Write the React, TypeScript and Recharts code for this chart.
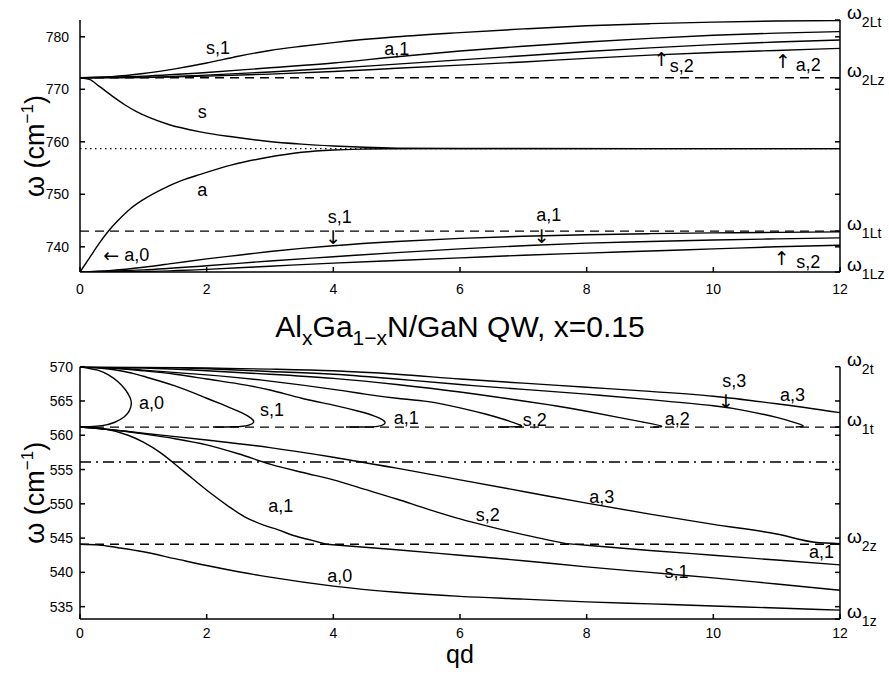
import React from 'react';
import { ComposedChart, Line, Scatter, XAxis, YAxis, ReferenceLine } from 'recharts';

const FONT = '"Liberation Sans", "DejaVu Sans", Arial, Helvetica, sans-serif';
const ARROW_FONT = '"DejaVu Sans", "Liberation Sans", sans-serif';
const ARROWS = ['↑', '↓', '←'];

// axes
const qdTicks = [0, 2, 4, 6, 8, 10, 12];
const topWTicks = [740, 750, 760, 770, 780];
const botWTicks = [535, 540, 545, 550, 555, 560, 565, 570];
const topDomain = [735.2, 783.2];
const botDomain = [533.2, 570];

// characteristic frequencies, cm^-1
const w2Lt = 783.2;
const w2Lz = 772.2;
const wMid = 758.7;
const w1Lt = 743.0;
const w1Lz = 735.2;
const w2t = 570;
const w1t = 561.2;
const wDashDot = 556.1;
const w2z = 544.1;
const w1z = 533.2;

const topEdge = [
  { w: w2Lt, sub: '2Lt' },
  { w: w2Lz, sub: '2Lz' },
  { w: w1Lt, sub: '1Lt' },
  { w: w1Lz, sub: '1Lz' },
];
const botEdge = [
  { w: w2t, sub: '2t' },
  { w: w1t, sub: '1t' },
  { w: w2z, sub: '2z' },
  { w: w1z, sub: '1z' },
];

// ---- upper panel curves [qd, omega]
const topS = [[0, 772.2], [0.15, 771.9], [0.3, 770.6], [0.5, 768.8], [0.7, 767.1], [0.9, 765.7], [1.1, 764.6], [1.4, 763.3], [1.9, 761.9], [2.4, 760.95], [2.95, 760.1], [3.5, 759.55], [4, 759.2], [4.5, 758.95], [5, 758.8], [6, 758.72], [12, 758.7]];
const topA = [[0, 735.2], [0.15, 737.9], [0.3, 740.6], [0.45, 743.0], [0.6, 745.0], [0.8, 747.3], [1, 749.0], [1.3, 751.0], [1.6, 752.6], [1.9, 753.8], [2.4, 755.6], [2.95, 757.0], [3.5, 758.0], [4, 758.45], [4.5, 758.62], [5, 758.68], [6, 758.7], [12, 758.7]];
const topS1 = [[0, 772.2], [0.5, 772.4], [1, 773.0], [1.5, 773.9], [2, 775.0], [2.5, 776.3], [3, 777.4], [3.5, 778.2], [4, 778.9], [5, 780.0], [6, 780.8], [7, 781.5], [8, 782.1], [9, 782.5], [10, 782.8], [11, 783.0], [12, 783.1]];
const topA1 = [[0, 772.2], [1, 772.5], [2, 773.2], [3, 774.1], [4, 775.0], [5, 776.2], [6, 777.3], [7, 778.2], [8, 779.0], [9, 779.7], [10, 780.3], [11, 780.7], [12, 781.0]];
const topS2 = [[0, 772.2], [1, 772.3], [2, 772.7], [3, 773.3], [4, 774.0], [5, 774.8], [6, 775.6], [7, 776.4], [8, 777.2], [9, 777.9], [10, 778.5], [11, 779.0], [12, 779.4]];
const topA2 = [[0, 772.2], [1, 772.25], [2, 772.5], [3, 772.9], [4, 773.4], [5, 774.0], [6, 774.6], [7, 775.2], [8, 775.9], [9, 776.5], [10, 777.0], [11, 777.4], [12, 777.8]];
const topS1Low = [[0, 735.2], [0.5, 735.5], [1, 736.1], [1.5, 736.9], [2, 737.7], [2.5, 738.4], [3, 739.1], [3.5, 739.7], [4, 740.2], [5, 741.0], [6, 741.6], [7, 742.0], [8, 742.3], [9, 742.5], [10, 742.65], [11, 742.75], [12, 742.85]];
const topA1Low = [[0, 735.2], [1, 735.6], [2, 736.4], [3, 737.3], [4, 738.1], [5, 738.9], [6, 739.6], [7, 740.2], [8, 740.7], [9, 741.0], [10, 741.3], [11, 741.5], [12, 741.7]];
const topS2Low = [[0, 735.2], [1, 735.3], [2, 735.7], [3, 736.3], [4, 736.9], [5, 737.4], [6, 737.9], [7, 738.4], [8, 738.8], [9, 739.2], [10, 739.6], [11, 740.0], [12, 740.3]];

// ---- lower panel curves [qd, omega]
const botA0Loop = [[0, 570], [0.28, 569.5], [0.45, 568.8], [0.6, 567.8], [0.72, 566.6], [0.79, 565.5], [0.81, 564.6], [0.78, 563.6], [0.7, 562.7], [0.55, 561.9], [0.35, 561.4], [0.15, 561.25], [0, 561.2]];
const botS1Loop = [[0, 570], [0.3, 569.8], [0.7, 569.3], [1, 568.6], [1.5, 567.2], [2, 565.4], [2.3, 564.3], [2.55, 563.3], [2.7, 562.5], [2.74, 561.9], [2.65, 561.45], [2.45, 561.25], [2.1, 561.2]];
const botA1Loop = [[0, 570], [0.5, 569.8], [1, 569.4], [1.5, 568.9], [2, 568.2], [2.5, 567.5], [3, 566.6], [3.5, 565.4], [4, 564.4], [4.4, 563.5], [4.65, 562.8], [4.8, 562.1], [4.8, 561.6], [4.7, 561.3], [4.5, 561.2], [4.2, 561.2]];
const botS2Loop = [[0, 570], [0.5, 569.8], [1, 569.5], [2, 568.8], [3, 567.9], [4, 566.7], [4.5, 566.0], [5, 565.4], [5.5, 564.9], [6, 564.0], [6.4, 563.1], [6.7, 562.3], [6.95, 561.5], [6.9, 561.25], [6.6, 561.2]];
const botA2Loop = [[0, 570], [1, 569.8], [2, 569.4], [3, 568.9], [4, 568.3], [5, 567.4], [6, 566.3], [7, 565.0], [7.5, 564.3], [8, 563.5], [8.5, 562.6], [8.9, 561.9], [9.18, 561.35], [9.05, 561.2]];
const botS3Loop = [[0, 570], [1, 569.9], [2, 569.7], [3, 569.3], [4, 568.9], [5, 568.2], [6, 567.4], [7, 566.7], [8, 566.0], [9, 565.2], [10, 564.3], [10.5, 563.6], [11, 562.6], [11.3, 561.8], [11.42, 561.35], [11.3, 561.2]];
const botA3Top = [[0, 570], [1, 569.95], [2, 569.8], [3, 569.65], [4, 569.4], [5, 568.9], [6, 568.2], [7, 567.6], [8, 567.0], [9, 566.4], [10, 565.7], [11, 564.6], [12, 563.3]];
const botA3Low = [[0, 561.2], [0.5, 560.8], [1, 560.3], [2, 559.3], [3, 558.2], [4, 556.8], [5, 555.2], [6, 553.5], [7, 551.8], [8, 550.1], [9, 548.5], [10, 547.0], [11, 545.6], [11.6, 544.4], [12, 544.2]];
const botS2Steep = [[0, 561.2], [0.5, 560.8], [1, 560.2], [1.5, 559.5], [2, 558.6], [2.5, 557.3], [3, 555.8], [3.5, 554.6], [4, 553.5], [4.5, 552.1], [5, 550.7], [5.5, 549.2], [6, 547.8], [6.5, 546.6], [7, 545.5], [7.4, 544.7], [7.68, 544.2]];
const botS2Flat = [[7.68, 544.2], [8, 543.95], [9, 543.2], [10, 542.5], [11, 541.8], [12, 541.1]];
const botA1Steep = [[0, 561.2], [0.4, 560.9], [0.76, 560.0], [1, 559.0], [1.28, 557.4], [1.55, 555.4], [1.8, 553.5], [2.07, 551.5], [2.35, 549.6], [2.6, 548.1], [2.9, 546.9], [3.13, 546.2], [3.4, 545.3], [3.65, 544.7], [3.89, 544.1]];
const botA1Flat = [[3.89, 544.1], [5, 543.3], [6, 542.5], [7, 541.7], [8, 540.8], [9, 540.0], [10, 539.2], [11, 538.3], [12, 537.4]];
const botA0 = [[0, 544.1], [0.3, 544.0], [0.6, 543.6], [1, 543.0], [1.5, 542.0], [2, 541.0], [2.5, 540.1], [3, 539.3], [4, 538.0], [5, 537.1], [6, 536.5], [7, 536.1], [8, 535.7], [9, 535.4], [10, 535.1], [11, 534.8], [12, 534.5]];

// text annotations [qd, omega, text]
const topNotes = [
  [2.18, 777.8, 's,1'], [5.0, 777.7, 'a,1'], [1.93, 765.7, 's'], [1.93, 750.8, 'a'],
  [4.1, 745.7, 's,1'], [4.0, 741.9, '↓'], [7.4, 746.1, 'a,1'], [7.29, 742.1, '↓'],
  [0.73, 738.4, '← a,0'], [9.18, 775.8, '↑'], [9.5, 774.4, 's,2'], [11.1, 775.4, '↑'], [11.5, 774.6, 'a,2'],
  [11.08, 737.8, '↑'], [11.5, 737.1, 's,2'],
];
const botNotes = [
  [1.13, 564.65, 'a,0'], [3.03, 563.7, 's,1'], [5.15, 562.5, 'a,1'], [7.18, 562.2, 's,2'], [9.43, 562.3, 'a,2'],
  [10.33, 567.9, 's,3'], [10.2, 565.0, '↓'], [11.25, 565.9, 'a,3'],
  [8.24, 551.0, 'a,3'], [6.44, 548.4, 's,2'], [3.17, 549.7, 'a,1'], [11.71, 542.9, 'a,1'], [9.42, 540.0, 's,1'], [4.1, 539.4, 'a,0'],
];

const rows = (pts) => pts.map(([q, w]) => ({ q, w }));
const noteRows = (ns) => ns.map(([q, w, t]) => ({ q, w, t }));

const topCurves = [
  { pts: topS, kind: 'monotone' }, { pts: topA, kind: 'monotone' },
  { pts: topS1, kind: 'monotone' }, { pts: topA1, kind: 'monotone' },
  { pts: topS2, kind: 'monotone' }, { pts: topA2, kind: 'monotone' },
  { pts: topS1Low, kind: 'monotone' }, { pts: topA1Low, kind: 'monotone' }, { pts: topS2Low, kind: 'monotone' },
];
const botCurves = [
  { pts: botA0Loop, kind: 'natural' }, { pts: botS1Loop, kind: 'natural' }, { pts: botA1Loop, kind: 'natural' },
  { pts: botS2Loop, kind: 'natural' }, { pts: botA2Loop, kind: 'natural' }, { pts: botS3Loop, kind: 'natural' },
  { pts: botA3Top, kind: 'monotone' }, { pts: botA3Low, kind: 'monotone' },
  { pts: botS2Steep, kind: 'monotone' }, { pts: botS2Flat, kind: 'monotone' },
  { pts: botA1Steep, kind: 'monotone' }, { pts: botA1Flat, kind: 'monotone' },
  { pts: botA0, kind: 'monotone' },
];
const topRefs = [
  { w: w2Lz, dash: '9 6' }, { w: w1Lt, dash: '9 6' }, { w: wMid, dash: '1.5 3.5' },
];
const botRefs = [
  { w: w1t, dash: '9 6' }, { w: w2z, dash: '9 6' }, { w: wDashDot, dash: '11 5 2 5' },
];

const axisStyle = { stroke: '#000', strokeWidth: 1.5 };

const NoteShape = (props: any) => {
  const { cx, cy, payload } = props;
  const text: string = payload.t;
  const lead = ARROWS.includes(text[0]) ? text[0] : '';
  const rest = lead ? text.slice(1) : text;
  return (
    <text x={cx} y={cy} textAnchor="middle" dominantBaseline="central" fontFamily={FONT} fontSize={18} fill="#000">
      {lead && <tspan fontFamily={ARROW_FONT} fontSize={19}>{lead}</tspan>}
      {rest}
    </text>
  );
};

const makeEdgeTick = (labels) => (props: any) => {
  const { x, y, payload } = props;
  const hit = labels.find((l) => l.w === payload.value);
  if (!hit) return <g />;
  return (
    <text x={x} y={y - 1} fontFamily={FONT} fontSize={19} fill="#000">
      ω<tspan dy={8} fontSize={14}>{hit.sub}</tspan>
    </text>
  );
};

const OmegaLabel = (props: any) => {
  const vb = props.viewBox || { x: 0, y: 0, width: 80, height: 250 };
  const cy = vb.y + vb.height / 2;
  const x = 44;
  return (
    <text x={x} y={cy} transform={`rotate(-90 ${x} ${cy})`} textAnchor="middle" fontFamily={FONT} fontSize={27} fill="#000">
      ω (cm<tspan dy={-11} fontSize={17}>−1</tspan><tspan dy={11}>)</tspan>
    </text>
  );
};

function Panel({ top, height, padTop, axisH, domain, wTicks, edge, curves, refs, notes, xTickMargin, yTickMargin, showQd }) {
  const rightTicks = Array.from(new Set([...wTicks, ...edge.map((e) => e.w)])).sort((a, b) => a - b);
  return (
    <div style={{ position: 'absolute', left: 0, top }}>
      <ComposedChart width={889} height={height} margin={{ top: padTop, right: 0, bottom: 0, left: 0 }}>
        <XAxis
          xAxisId="b" dataKey="q" type="number" domain={[0, 12]} ticks={qdTicks} interval={0} allowDataOverflow
          height={axisH} tickSize={-5} tickMargin={xTickMargin} axisLine={axisStyle} tickLine={axisStyle}
          tick={{ fontSize: 14, fill: '#000', fontFamily: FONT }}
          label={showQd ? { value: 'qd', position: 'insideBottom', offset: 11, fontSize: 25, fill: '#000', fontFamily: FONT } : undefined}
        />
        <XAxis
          xAxisId="t" orientation="top" type="number" domain={[0, 12]} ticks={qdTicks} interval={0} allowDataOverflow
          height={0} tickSize={-5} tick={false} axisLine={axisStyle} tickLine={axisStyle}
        />
        <YAxis
          yAxisId="l" type="number" domain={domain} ticks={wTicks} interval={0} allowDataOverflow width={80}
          tickSize={-5} tickMargin={yTickMargin} axisLine={axisStyle} tickLine={axisStyle}
          tick={{ fontSize: 14, fill: '#000', fontFamily: FONT }}
          label={<OmegaLabel />}
        />
        <YAxis
          yAxisId="r" orientation="right" type="number" domain={domain} ticks={rightTicks} interval={0} allowDataOverflow width={49}
          tickSize={-5} tickMargin={12} axisLine={axisStyle} tickLine={axisStyle}
          tick={makeEdgeTick(edge)}
        />
        {refs.map((r, i) => (
          <ReferenceLine key={`r${i}`} xAxisId="b" yAxisId="l" y={r.w} stroke="#000" strokeWidth={1.3} strokeDasharray={r.dash} />
        ))}
        {curves.map((c, i) => (
          <Line
            key={`c${i}`} xAxisId="b" yAxisId="l" data={rows(c.pts)} dataKey="w" type={c.kind}
            stroke="#000" strokeWidth={1.4} dot={false} activeDot={false} isAnimationActive={false}
          />
        ))}
        <Scatter xAxisId="b" yAxisId="l" data={noteRows(notes)} dataKey="w" shape={NoteShape} isAnimationActive={false} />
      </ComposedChart>
    </div>
  );
}

export default function App() {
  return (
    <div style={{ position: 'absolute', left: 0, top: 0, width: 889, height: 674, background: '#fff' }}>
      <Panel
        top={0} height={300} padTop={20} axisH={28} domain={topDomain} wTicks={topWTicks} edge={topEdge}
        curves={topCurves} refs={topRefs} notes={topNotes} xTickMargin={17} yTickMargin={16} showQd={false}
      />
      <svg width={889} height={60} style={{ position: 'absolute', left: 0, top: 290 }}>
        <text x={460} y={47} textAnchor="middle" fontFamily={FONT} fontSize={30} fill="#000">
          Al<tspan dy={8} fontSize={21}>x</tspan>
          <tspan dy={-8}>Ga</tspan>
          <tspan dy={8} fontSize={21}>1−x</tspan>
          <tspan dy={-8}>N/GaN QW, x=0.15</tspan>
        </text>
      </svg>
      <Panel
        top={340} height={334} padTop={26.7} axisH={55} domain={botDomain} wTicks={botWTicks} edge={botEdge}
        curves={botCurves} refs={botRefs} notes={botNotes} xTickMargin={14} yTickMargin={12} showQd
      />
    </div>
  );
}
